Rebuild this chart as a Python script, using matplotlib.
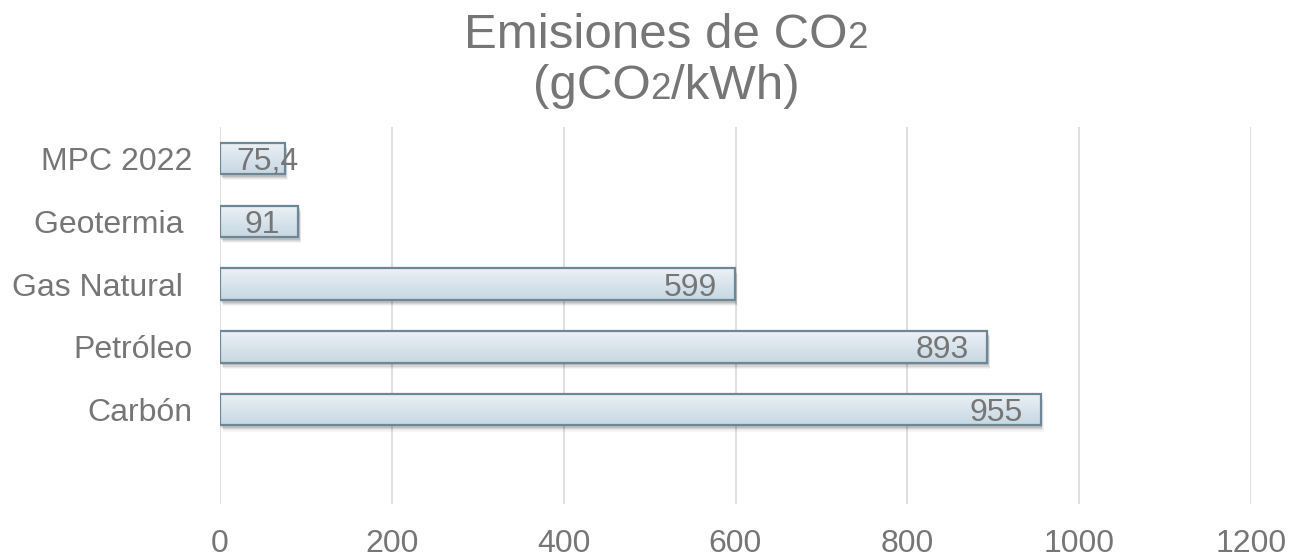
import numpy as np
import matplotlib.pyplot as plt
from matplotlib.patches import Rectangle
from matplotlib.offsetbox import TextArea, HPacker, VPacker, AnnotationBbox
import matplotlib.transforms as mtransforms

plt.rcParams['font.family'] = ['Liberation Sans', 'DejaVu Sans']

categories = ['Carbón', 'Petróleo', 'Gas Natural ', 'Geotermia ', 'MPC 2022']
values = [955, 893, 599, 91, 75.4]
value_labels = ['955', '893', '599', '91', '75,4']
xticks = [0, 200, 400, 600, 800, 1000, 1200]

text_col = '#767676'
edge_col = '#6d8796'
grid_col = '#d9d9d9'
fs = 23

fig = plt.figure(figsize=(12.9, 5.58), dpi=100)
ax = fig.add_axes([220 / 1290, 1 - 504 / 558, 1031 / 1290, 377 / 558])

ypos = np.arange(len(categories))
bar_h = 0.5

# gradient used for bar fill (top light, bottom darker)
t = np.linspace(0, 1, 64)[:, None, None]
top = np.array([0.925, 0.945, 0.965])
bot = np.array([0.78, 0.845, 0.89])
grad_img = top + (bot - top) * t

for y, v in zip(ypos, values):
    # soft shadow under the bar
    for k, a in enumerate([0.10, 0.08, 0.06, 0.04]):
        off = mtransforms.offset_copy(ax.transData, fig=fig, x=1 + k * 0.4, y=-(2 + k * 0.8), units='points')
        ax.add_patch(Rectangle((0, y - bar_h / 2), v, bar_h, facecolor='black', alpha=a,
                               edgecolor='none', transform=off, zorder=2))
    ax.imshow(grad_img, extent=[0, v, y - bar_h / 2, y + bar_h / 2], aspect='auto',
              interpolation='bilinear', origin='upper', zorder=3)
    ax.add_patch(Rectangle((0, y - bar_h / 2), v, bar_h, facecolor='none',
                           edgecolor=edge_col, linewidth=1.6, zorder=4))

ax.set_xlim(0, 1200)
ax.set_ylim(-1.5, 4.5)
ax.set_aspect('auto')

fig.canvas.draw()
renderer = fig.canvas.get_renderer()
px_per_unit = ax.transData.transform((1, 0))[0] - ax.transData.transform((0, 0))[0]
for y, v, lab in zip(ypos, values, value_labels):
    txt = ax.annotate(lab, (v, y), xytext=(-13, 0), textcoords='offset points',
                      ha='right', va='center_baseline', fontsize=fs, color=text_col, zorder=5)
    w = txt.get_window_extent(renderer).width
    if w + 2 * 13 > v * px_per_unit:
        txt.remove()
        ax.annotate(lab, (0, y), xytext=(12, 0), textcoords='offset points',
                    ha='left', va='center_baseline', fontsize=fs, color=text_col, zorder=5)

ax.set_yticks(ypos)
ax.set_yticklabels(categories)
ax.set_xticks(xticks)
ax.tick_params(axis='both', length=0, labelsize=fs, labelcolor=text_col)
ax.tick_params(axis='y', pad=20)
ax.tick_params(axis='x', pad=18)
ax.grid(axis='x', color=grid_col, linewidth=1.2, zorder=0)
ax.set_axisbelow(True)
for s in ax.spines.values():
    s.set_visible(False)

# title with the smaller "2"
def piece(s, size):
    return TextArea(s, textprops=dict(fontsize=size, color=text_col))

line1 = HPacker(children=[piece('Emisiones de CO', 35.5), piece('2', 26.5)], align='baseline', pad=0, sep=0)
line2 = HPacker(children=[piece('(gCO', 35.5), piece('2', 26.5), piece('/kWh)', 35.5)], align='baseline', pad=0, sep=0)
title = VPacker(children=[line1, line2], align='center', pad=0, sep=5)
ab = AnnotationBbox(title, (666 / 1290, 1 - 61 / 558), xycoords='figure fraction',
                    frameon=False, box_alignment=(0.5, 0.5))
fig.add_artist(ab)

fig.savefig('out.png', dpi=100)
